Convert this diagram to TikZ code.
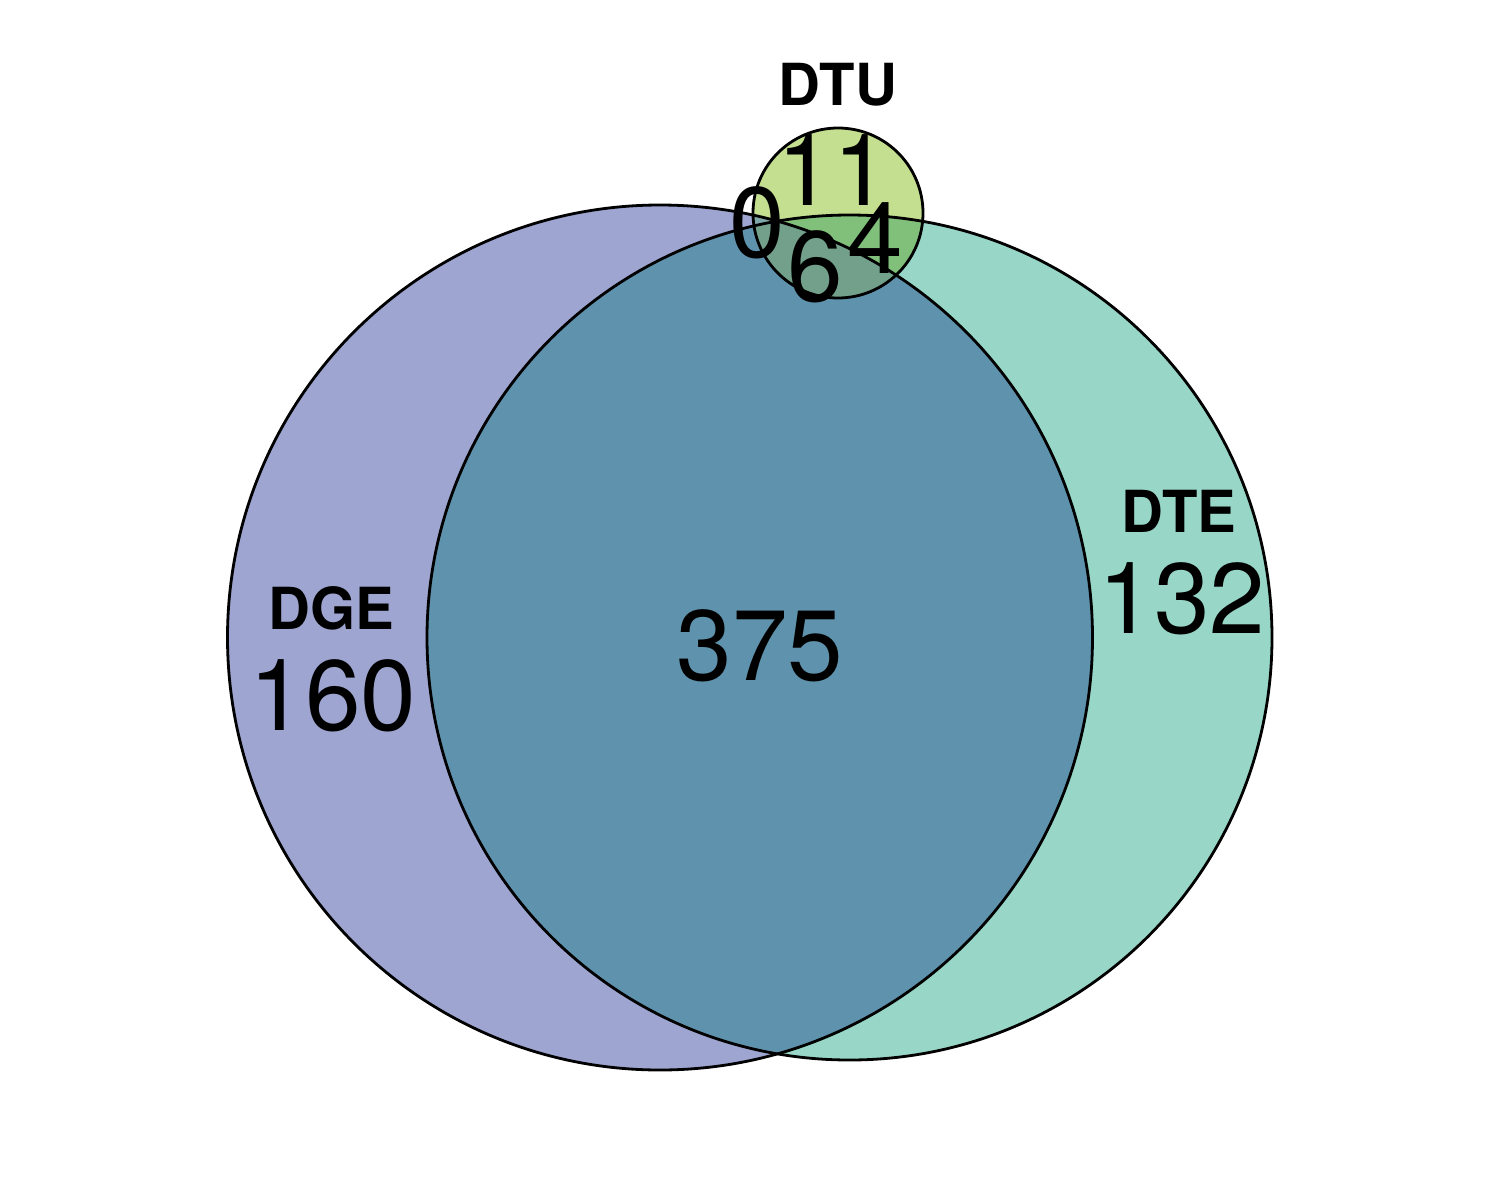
\documentclass[tikz,border=0pt]{standalone}
\usepackage{fontspec}
\setmainfont{TeX Gyre Heros}
\definecolor{cDGE}{HTML}{9DA5D0}
\definecolor{cDTE}{HTML}{98D7C8}
\definecolor{cDGEDTE}{HTML}{5F93AD}
\definecolor{cDTU}{HTML}{C3DF8F}
\definecolor{cDTUDTE}{HTML}{80C07A}
\definecolor{cDTUDGE}{HTML}{7FA6A8}
\definecolor{cAll}{HTML}{72A08B}
\tikzset{
  setlabel/.style={anchor=base,inner sep=0pt,font=\fontsize{58}{60}\selectfont\bfseries},
  count/.style={anchor=base,inner sep=0pt,font=\fontsize{100}{110}\selectfont},
  outline/.style={draw=black,line width=2.8pt}
}
\begin{document}
\begin{tikzpicture}[x=1pt,y=-1pt]
\useasboundingbox (0,0) rectangle (1500,1200);
\def\dge{(660,637.5) circle (432.5)}
\def\dte{(849.5,637.5) circle (422.5)}
\def\dtu{(838,213) circle (85)}
\fill[cDGE] \dge;
\fill[cDTE] \dte;
\begin{scope}
  \clip \dge;
  \fill[cDGEDTE] \dte;
\end{scope}
\fill[cDTU] \dtu;
\begin{scope}
  \clip \dtu;
  \fill[cDTUDTE] \dte;
  \fill[cDTUDGE] \dge;
  \clip \dge;
  \fill[cAll] \dte;
\end{scope}
\draw[outline] \dge;
\draw[outline] \dte;
\draw[outline] \dtu;
\node[setlabel] (lDTU) at (838,105) {DTU};
\node[setlabel] (lDGE) at (331,629) {DGE};
\node[setlabel] (lDTE) at (1179,532) {DTE};
\node[count] (n160) at (333,730) {160};
\node[count] (n132) at (1182,633) {132};
\node[count] (n375) at (760,680) {375};
\node[count] (n11) at (833,205) {11};
\node[count] (n0) at (757,257) {0};
\node[count] (n6) at (815,301) {6};
\node[count] (n4) at (875,273) {4};
\end{tikzpicture}
\end{document}
